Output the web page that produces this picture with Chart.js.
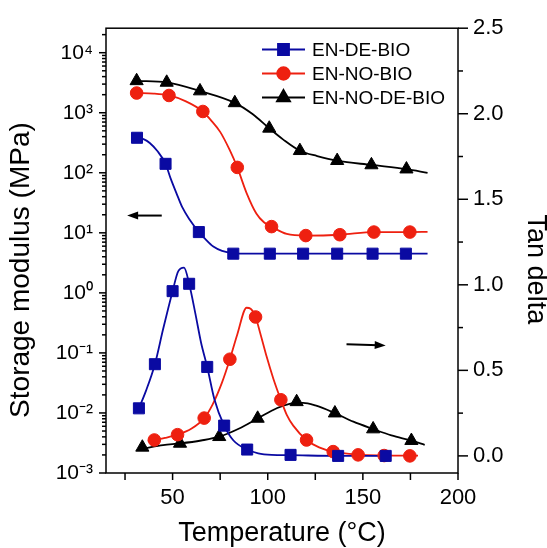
<!DOCTYPE html>
<html><head><meta charset="utf-8">
<script src="https://cdn.jsdelivr.net/npm/chart.js@4/dist/chart.umd.min.js"></script>
<style>html,body{margin:0;padding:0;background:#fff}canvas{display:block}</style>
</head><body>
<canvas id="c" width="547" height="548"></canvas>
<script>
// ---------- data ----------
const seriesNames = ['EN-DE-BIO', 'EN-NO-BIO', 'EN-NO-DE-BIO'];
const xTicks = [50, 100, 150, 200];
const xMinorTicks = [25, 75, 125, 175];
const leftMajorTicks = [1e-3, 1e-2, 1e-1, 1, 10, 100, 1000, 10000];
const rightTicks = [0, 0.5, 1, 1.5, 2, 2.5];
const rightMinorTicks = [0.25, 0.75, 1.25, 1.75, 2.25];

// storage modulus markers (MPa)
const deModT = [31.3, 46.3, 63.8, 81.9, 101.1, 118.6, 136.5, 155.1, 172.6];
const deModE = [383, 141, 10.3, 4.5, 4.5, 4.5, 4.5, 4.5, 4.5];
const noModT = [31.1, 48.1, 65.9, 84, 102, 120, 137.9, 155.8, 174.7];
const noModE = [2130, 1940, 1050, 123, 12.7, 9.0, 9.3, 10.3, 10.3];
const nodeModT = [31.1, 46.9, 64.4, 82.7, 100.8, 116.9, 136.5, 154.5, 172.9];
const nodeModE = [3400, 3200, 2300, 1460, 550, 233, 159, 135, 115];

// storage modulus fitted curves
const deModFitT = [31.3, 35, 38, 42, 46.3, 49, 52, 55, 59, 63.8, 67, 71.4, 76, 81.9, 90, 184];
const deModFitE = [383, 360, 313, 230, 141, 80, 46, 27, 16.5, 10.3, 8, 5.9, 5, 4.6, 4.5, 4.5];
const noModFitT = [31.1, 40, 48.1, 57, 65.9, 70, 75, 80, 84, 88.9, 94, 98, 102, 110, 120, 138, 156, 175, 184];
const noModFitE = [2130, 2090, 1940, 1550, 1050, 760, 480, 240, 123, 46, 21, 15, 12.7, 9.6, 9.0, 9.3, 10.3, 10.3, 10.4];
const nodeModFitT = [31.1, 46.9, 64.4, 82.7, 92, 100.8, 108, 116.9, 126, 136.5, 154.5, 172.9, 184];
const nodeModFitE = [3400, 3200, 2300, 1460, 950, 550, 360, 233, 190, 159, 135, 115, 100];

// tan delta markers
const deTanT = [32.3, 40.7, 50.0, 58.7, 68.2, 77.1, 89.2, 112, 137, 162];
const deTanV = [0.278, 0.536, 0.963, 1.006, 0.52, 0.177, 0.037, 0.006, 0.0, 0.0];
const noTanT = [40.4, 52.6, 66.6, 80.1, 93.6, 106.9, 120.4, 134.4, 147.5, 161.2, 174.7];
const noTanV = [0.093, 0.124, 0.221, 0.565, 0.812, 0.328, 0.093, 0.025, 0.006, 0.002, 0.0];
const nodeTanT = [34.1, 53.9, 74.5, 94.7, 115.2, 135.3, 155.4, 175.5];
const nodeTanV = [0.05, 0.073, 0.112, 0.219, 0.316, 0.25, 0.157, 0.089];

// tan delta fitted curves
const deTanFitT = [32.3, 36, 40.7, 45, 50, 53, 56, 58.7, 62, 65, 68.2, 72, 77.1, 82, 89.2, 95, 102, 112, 137, 162];
const deTanFitV = [0.278, 0.38, 0.536, 0.74, 0.963, 1.08, 1.10, 1.006, 0.83, 0.66, 0.52, 0.33, 0.177, 0.09, 0.037, 0.015, 0.006, 0.004, 0.0, 0.0];
const noTanFitT = [37, 40.4, 46, 52.6, 60, 66.6, 71, 76, 80.1, 84, 88.9, 91, 93.6, 96, 99.3, 103, 106.9, 110, 113.4, 120.4, 127, 134.4, 147.5, 161, 179];
const noTanFitV = [0.086, 0.093, 0.105, 0.124, 0.16, 0.221, 0.3, 0.43, 0.565, 0.71, 0.866, 0.86, 0.812, 0.72, 0.585, 0.45, 0.328, 0.24, 0.177, 0.093, 0.05, 0.025, 0.008, 0.003, 0.001];
const nodeTanFitT = [35.5, 45, 54, 65, 74.5, 85, 94.7, 105, 112, 118.6, 125, 135.3, 145, 155.4, 165, 175.5, 182.5];
const nodeTanFitV = [0.045, 0.063, 0.073, 0.09, 0.112, 0.16, 0.219, 0.28, 0.305, 0.31, 0.295, 0.25, 0.2, 0.157, 0.12, 0.089, 0.065];

// arrows: [T start, value start, T end, value end, axis]
const arrowLeft = [44.3, 19.4, 26.1, 19.4, 'yL'];
const arrowRight = [141.4, 0.653, 162.0, 0.646, 'yR'];

// ---------- styling ----------
const FONT = "'Liberation Sans', Arial, Helvetica, sans-serif";
const colors = ['#0a0aa2', '#ee2010', '#000000'];
const styles = ['rect', 'circle', 'triangle'];
const radii = [7.8, 6.3, 7.6];

const pts = (xs, ys) => xs.map((x, i) => ({x: x, y: ys[i]}));

function markerSet(i, xs, ys, axis, label) {
  return {label: label, data: pts(xs, ys), yAxisID: axis, showLine: false,
    pointStyle: styles[i], pointRadius: radii[i], pointHoverRadius: radii[i],
    backgroundColor: colors[i], borderColor: colors[i], pointBorderWidth: 1};
}
function fitSet(i, xs, ys, axis) {
  return {label: '_fit', data: pts(xs, ys), yAxisID: axis, showLine: true,
    pointRadius: 0, borderColor: colors[i], borderWidth: 1.8,
    cubicInterpolationMode: 'monotone', fill: false};
}

const datasets = [
  markerSet(0, deModT, deModE, 'yL', seriesNames[0]),
  markerSet(1, noModT, noModE, 'yL', seriesNames[1]),
  markerSet(2, nodeModT, nodeModE, 'yL', seriesNames[2]),
  markerSet(0, deTanT, deTanV, 'yR', seriesNames[0]),
  markerSet(1, noTanT, noTanV, 'yR', seriesNames[1]),
  markerSet(2, nodeTanT, nodeTanV, 'yR', seriesNames[2]),
  fitSet(0, deModFitT, deModFitE, 'yL'),
  fitSet(1, noModFitT, noModFitE, 'yL'),
  fitSet(2, nodeModFitT, nodeModFitE, 'yL'),
  fitSet(0, deTanFitT, deTanFitV, 'yR'),
  fitSet(1, noTanFitT, noTanFitV, 'yR'),
  fitSet(2, nodeTanFitT, nodeTanFitV, 'yR')
];

const supMap = {'-': '\u207B', '0': '\u2070', '1': '\u00B9', '2': '\u00B2', '3': '\u00B3', '4': '\u2074', '5': '\u2075'};
const sup = n => String(n).split('').map(c => supMap[c]).join('');

const deco = {
  id: 'deco',
  afterDraw(chart) {
    const {ctx, chartArea: a, scales} = chart;
    ctx.save();
    ctx.strokeStyle = '#000';
    ctx.lineWidth = 1.5;
    ctx.strokeRect(a.left, a.top, a.right - a.left, a.bottom - a.top);
    const seg = (x1, y1, x2, y2) => { ctx.beginPath(); ctx.moveTo(x1, y1); ctx.lineTo(x2, y2); ctx.stroke(); };
    // bottom ticks
    xTicks.concat(xMinorTicks).forEach(v => { const p = scales.x.getPixelForValue(v); seg(p, a.bottom, p, a.bottom + 7); });
    // left log ticks
    leftMajorTicks.forEach(v => {
      const p = scales.yL.getPixelForValue(v);
      seg(a.left, p, a.left - 7, p);
      for (let m = 2; m <= 9; m++) {
        const mv = v * m;
        if (mv > scales.yL.max) break;
        const q = scales.yL.getPixelForValue(mv);
        seg(a.left, q, a.left - 4, q);
      }
    });
    // right ticks
    rightTicks.forEach(v => { const p = scales.yR.getPixelForValue(v); seg(a.right, p, a.right + 10, p); });
    rightMinorTicks.forEach(v => { const p = scales.yR.getPixelForValue(v); seg(a.right, p, a.right + 5, p); });
    // arrows
    [arrowLeft, arrowRight].forEach(ar => {
      const sy = scales[ar[4]];
      const x1 = scales.x.getPixelForValue(ar[0]), y1 = sy.getPixelForValue(ar[1]);
      const x2 = scales.x.getPixelForValue(ar[2]), y2 = sy.getPixelForValue(ar[3]);
      const ang = Math.atan2(y2 - y1, x2 - x1);
      ctx.lineWidth = 2;
      seg(x1, y1, x2 - 7 * Math.cos(ang), y2 - 7 * Math.sin(ang));
      ctx.fillStyle = '#000';
      ctx.beginPath();
      ctx.moveTo(x2, y2);
      ctx.lineTo(x2 - 11 * Math.cos(ang) - 4 * Math.sin(ang), y2 - 11 * Math.sin(ang) + 4 * Math.cos(ang));
      ctx.lineTo(x2 - 11 * Math.cos(ang) + 4 * Math.sin(ang), y2 - 11 * Math.sin(ang) - 4 * Math.cos(ang));
      ctx.closePath();
      ctx.fill();
    });
    // legend
    ctx.font = '19px ' + FONT;
    ctx.textBaseline = 'middle';
    ctx.textAlign = 'left';
    seriesNames.forEach((name, i) => {
      const y = 49.5 + i * 24;
      ctx.strokeStyle = colors[i];
      ctx.fillStyle = colors[i];
      ctx.lineWidth = 1.8;
      seg(262, y, 305, y);
      Chart.helpers.drawPoint(ctx, {pointStyle: styles[i], rotation: 0, radius: radii[i], borderWidth: 1}, 283.5, y);
      ctx.fillStyle = '#000';
      ctx.fillText(name, 312, y + 1);
    });
    ctx.restore();
  }
};

new Chart(document.getElementById('c'), {
  type: 'scatter',
  data: {datasets: datasets},
  options: {
    responsive: false,
    animation: false,
    devicePixelRatio: 1,
    layout: {padding: {top: 28, left: 0, right: 0, bottom: 0}},
    plugins: {legend: {display: false}, tooltip: {enabled: false}},
    scales: {
      x: {
        type: 'linear', position: 'bottom', min: 15, max: 200,
        afterBuildTicks: s => { s.ticks = xTicks.map(v => ({value: v})); },
        ticks: {font: {size: 22, family: FONT}, color: '#000', padding: 12, autoSkip: false, maxRotation: 0, callback: v => String(v)},
        grid: {display: false, drawTicks: false},
        border: {display: false},
        title: {display: true, text: 'Temperature (\u00B0C)', color: '#000', font: {size: 27, family: FONT, lineHeight: 1}, padding: {top: 0, bottom: 0.5}},
        afterFit: s => { s.height = 75; }
      },
      yL: {
        type: 'logarithmic', position: 'left', min: 1e-3, max: 2.56e4,
        afterBuildTicks: s => { s.ticks = leftMajorTicks.map(v => ({value: v})); },
        ticks: {font: {size: 21, family: FONT}, color: '#000', padding: 13, autoSkip: false,
          callback: v => '10' + sup(Math.round(Math.log10(v)))},
        grid: {display: false, drawTicks: false},
        border: {display: false},
        title: {display: true, text: 'Storage modulus (MPa)     ', color: '#000', font: {size: 28, family: FONT, lineHeight: 1}, padding: {top: 7, bottom: 0}},
        afterFit: s => { s.width = 106; }
      },
      yR: {
        type: 'linear', position: 'right', min: -0.1, max: 2.5,
        afterBuildTicks: s => { s.ticks = rightTicks.map(v => ({value: v})); },
        ticks: {font: {size: 22, family: FONT}, color: '#000', padding: 15, autoSkip: false,
          callback: v => Number(v).toFixed(1)},
        grid: {display: false, drawTicks: false},
        border: {display: false},
        title: {display: true, text: '     Tan delta', color: '#000', font: {size: 27, family: FONT, lineHeight: 1}, padding: {top: -2, bottom: 0}},
        afterFit: s => { s.width = 89; }
      }
    }
  },
  plugins: [deco]
});
</script>
</body></html>
